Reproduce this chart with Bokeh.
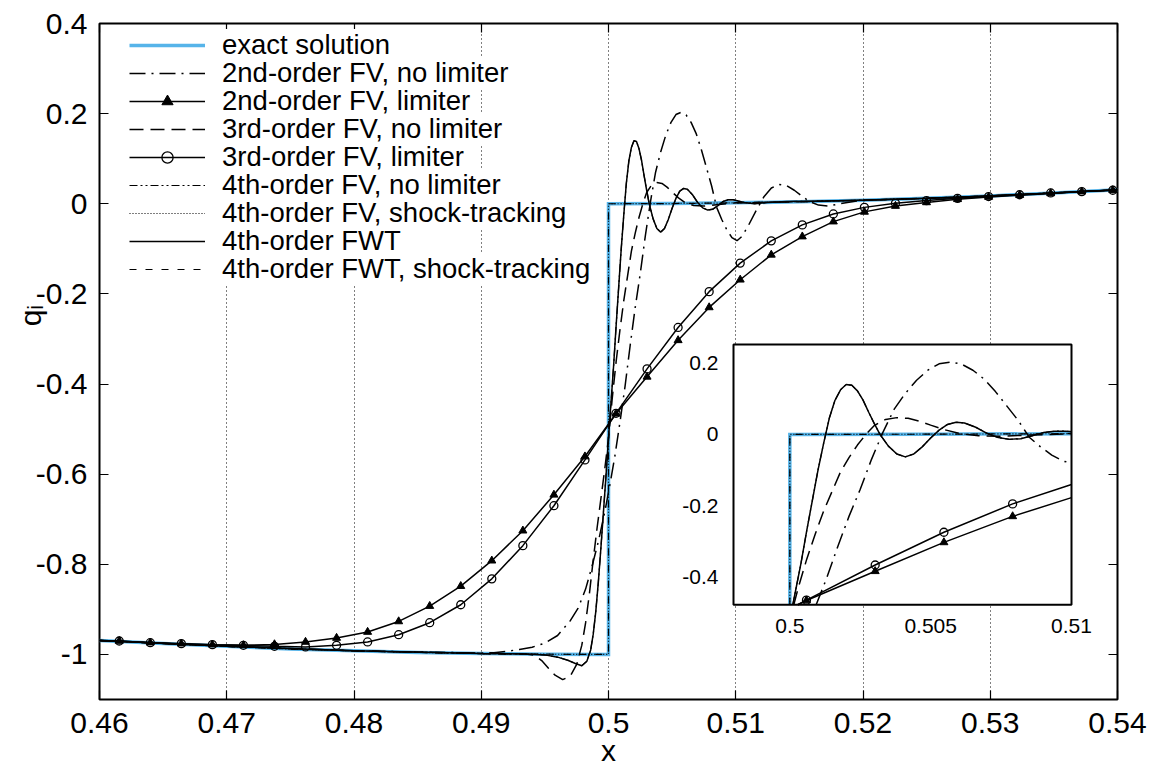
import numpy as np
from bokeh.plotting import figure
from bokeh.models import Range1d, FixedTicker, LinearAxis, Legend, LegendItem
from bokeh.embed import file_html
from bokeh.resources import INLINE
from bokeh.core.properties import value

FONT = "Liberation Sans"

# ---------------- data ----------------
x_range = (0.46, 0.54)
y_range = (-1.1, 0.4)
x_ticks = [0.46, 0.47, 0.48, 0.49, 0.50, 0.51, 0.52, 0.53, 0.54]
x_tick_labels = ["0.46", "0.47", "0.48", "0.49", "0.5", "0.51", "0.52", "0.53", "0.54"]
y_ticks = [-1.0, -0.8, -0.6, -0.4, -0.2, 0.0, 0.2, 0.4]
y_tick_labels = ["-1", "-0.8", "-0.6", "-0.4", "-0.2", "0", "0.2", "0.4"]
x_title = "x"
y_title = "q\u1d62"

inset_x_range = (0.498, 0.51)
inset_y_range = (-0.478, 0.252)
inset_x_ticks = [0.5, 0.505, 0.51]
inset_x_labels = ["0.5", "0.505", "0.51"]
inset_y_ticks = [-0.4, -0.2, 0.0, 0.2]
inset_y_labels = ["-0.4", "-0.2", "0", "0.2"]

series_labels = [
    "exact solution",
    "2nd-order FV, no limiter",
    "2nd-order FV, limiter",
    "3rd-order FV, no limiter",
    "3rd-order FV, limiter",
    "4th-order FV, no limiter",
    "4th-order FV, shock-tracking",
    "4th-order FWT",
    "4th-order FWT, shock-tracking",
]

# exact solution (also matched by both shock-tracking results)
exact_x = [0.46, 0.465, 0.47, 0.475, 0.48, 0.485, 0.49, 0.495, 0.5,
           0.5, 0.505, 0.51, 0.515, 0.52, 0.525, 0.53, 0.535, 0.54]
exact_y = [-0.969, -0.976, -0.982, -0.988, -0.992, -0.9955, -0.998, -0.9995, -1.0,
           0.0, 0.0005, 0.002, 0.0045, 0.008, 0.012, 0.0175, 0.024, 0.031]

# limiter schemes (markers on every sample)
lim_x = [0.46, 0.46155, 0.46399, 0.46643, 0.46887, 0.47131, 0.47375, 0.47619, 0.47863,
         0.48107, 0.48351, 0.48595, 0.48839, 0.49083, 0.49327, 0.49571, 0.49815, 0.50059,
         0.50303, 0.50547, 0.50791, 0.51035, 0.51279, 0.51523, 0.51767, 0.52011, 0.52255,
         0.52499, 0.52743, 0.52987, 0.53231, 0.53475, 0.53719, 0.53963, 0.54]
lim2_y = [-0.969, -0.9702, -0.9739, -0.9761, -0.9783, -0.9798, -0.9777, -0.9723, -0.9635,
          -0.9502, -0.9268, -0.8927, -0.8485, -0.792, -0.7254, -0.6458, -0.5609, -0.466,
          -0.384, -0.303, -0.230, -0.1686, -0.1133, -0.0728, -0.0396, -0.018, -0.005,
          0.003, 0.010, 0.015, 0.019, 0.023, 0.027, 0.030, 0.031]
lim3_y = [-0.969, -0.9702, -0.9739, -0.9761, -0.9783, -0.9798, -0.982, -0.9834, -0.9798,
          -0.9723, -0.9562, -0.9296, -0.8898, -0.8323, -0.7586, -0.670, -0.5684, -0.465,
          -0.3664, -0.2745, -0.195, -0.1317, -0.0823, -0.0469, -0.0226, -0.008, 0.001,
          0.007, 0.012, 0.016, 0.020, 0.024, 0.027, 0.030, 0.031]

# 2nd-order FV, no limiter
nl2_x = [0.46, 0.47, 0.48, 0.49, 0.491, 0.492, 0.493, 0.494, 0.495, 0.496, 0.497, 0.4976,
         0.4982, 0.4987, 0.4992, 0.4997, 0.5001, 0.5005, 0.5009, 0.5013, 0.5017, 0.5021,
         0.5025, 0.5029, 0.5033, 0.5037, 0.5041, 0.5045, 0.5049, 0.5053, 0.5057, 0.5061,
         0.5065, 0.5069, 0.5073, 0.5077, 0.5081, 0.5085, 0.5089, 0.5093, 0.5097, 0.5101,
         0.5105, 0.511, 0.5116, 0.5122, 0.5128, 0.5134, 0.514, 0.5146, 0.5152, 0.5158,
         0.5165, 0.5173, 0.5182, 0.5195, 0.521, 0.525, 0.53, 0.535, 0.54]
nl2_y = [-0.969, -0.982, -0.992, -0.997, -0.996, -0.993, -0.989, -0.984, -0.975, -0.958,
         -0.925, -0.898, -0.855, -0.805, -0.75, -0.685, -0.625, -0.56, -0.485, -0.405,
         -0.315, -0.23, -0.154, -0.07, 0.005, 0.07, 0.115, 0.152, 0.18, 0.198, 0.203,
         0.197, 0.18, 0.155, 0.12, 0.08, 0.04, -0.008, -0.035, -0.058, -0.075, -0.082,
         -0.072, -0.048, -0.015, 0.015, 0.035, 0.043, 0.04, 0.03, 0.017, 0.005,
         -0.003, -0.005, 0.0, 0.006, 0.009, 0.012, 0.0175, 0.024, 0.031]

# 3rd-order FV, no limiter
nl3_x = [0.46, 0.47, 0.48, 0.49, 0.4935, 0.4942, 0.4948, 0.4953, 0.4958, 0.4964, 0.497,
         0.4975, 0.4979, 0.4982, 0.4985, 0.4988, 0.4991, 0.4994, 0.4997, 0.5, 0.5003,
         0.5006, 0.5009, 0.5012, 0.5015, 0.5018, 0.5021, 0.5024, 0.5027, 0.503, 0.5034,
         0.5038, 0.5042, 0.5046, 0.505, 0.5055, 0.506, 0.5067, 0.5075, 0.5085, 0.51,
         0.515, 0.52, 0.525, 0.53, 0.535, 0.54]
nl3_y = [-0.969, -0.982, -0.992, -0.998, -0.999, -1.002, -1.015, -1.031, -1.046, -1.056,
         -1.048, -1.022, -0.98, -0.93, -0.865, -0.79, -0.72, -0.655, -0.59, -0.52, -0.43,
         -0.35, -0.28, -0.215, -0.16, -0.105, -0.065, -0.03, 0.0, 0.025, 0.042,
         0.047, 0.045, 0.037, 0.026, 0.013, 0.003, -0.004, -0.005, -0.002, 0.002,
         0.0045, 0.008, 0.012, 0.0175, 0.024, 0.031]

# 4th-order FWT (4th-order FV without limiter lies on top of it)
fwt_x = [0.46, 0.47, 0.48, 0.49, 0.4935, 0.495, 0.496, 0.4968, 0.4974, 0.4979, 0.4983,
         0.4986, 0.4988, 0.499, 0.4992, 0.4994, 0.4996, 0.4998, 0.5, 0.5002, 0.5004,
         0.5006, 0.5008, 0.501, 0.5012, 0.5014, 0.5016, 0.5018, 0.502, 0.5022, 0.5024,
         0.5026, 0.5028, 0.503, 0.5032, 0.5035, 0.5038, 0.5041, 0.5044, 0.5047, 0.505,
         0.5053, 0.5056, 0.5059, 0.5062, 0.5066, 0.507, 0.5074, 0.5078, 0.5082, 0.5086,
         0.509, 0.5094, 0.5098, 0.5102, 0.5108, 0.5115, 0.5125, 0.514, 0.517, 0.52,
         0.525, 0.53, 0.535, 0.54]
fwt_y = [-0.969, -0.982, -0.992, -0.998, -0.999, -1.001, -1.006, -1.013, -1.020, -1.025,
         -1.015, -0.99, -0.955, -0.905, -0.84, -0.765, -0.685, -0.605, -0.52, -0.44,
         -0.36, -0.27, -0.185, -0.10, -0.025, 0.045, 0.095, 0.125, 0.14, 0.138, 0.122,
         0.096, 0.062, 0.03, 0.0, -0.033, -0.055, -0.063, -0.055, -0.035, -0.01,
         0.012, 0.028, 0.034, 0.032, 0.02, 0.003, -0.009, -0.014, -0.012, -0.004,
         0.005, 0.009, 0.009, 0.006, 0.002, 0.0, 0.003, 0.005, 0.006, 0.008,
         0.012, 0.0175, 0.024, 0.031]
fv4_x = fwt_x
fv4_y = fwt_y

assert len(nl2_x) == len(nl2_y) and len(nl3_x) == len(nl3_y) and len(fwt_x) == len(fwt_y)
assert len(lim_x) == len(lim2_y) == len(lim3_y)

# ---------------- layout (pixels) ----------------
W, H = 1159, 769
B_LEFT, B_RIGHT, B_TOP, B_BOTTOM = 99, 42, 23, 68
FW, FH = W - B_LEFT - B_RIGHT, H - B_TOP - B_BOTTOM
# inset frame, pixels relative to main frame (left, right, top, bottom)
INS_L, INS_R, INS_T, INS_B = 634, 972, 322, 583

BLUE = "#56b4e9"
LW = 1.5
MS = 8
styles = {
    "nl2": dict(line_dash="16 6 2 6"),
    "nl3": dict(line_dash="14 7"),
    "fv4": dict(line_dash="8 3 2 3 2 3"),
    "fv4st": dict(line_dash="1 2"),
    "fwtst": dict(line_dash="7 9"),
}

p = figure(width=W, height=H, x_range=Range1d(*x_range), y_range=Range1d(*y_range),
           output_backend="svg", toolbar_location=None,
           min_border_left=B_LEFT, min_border_right=B_RIGHT,
           min_border_top=B_TOP, min_border_bottom=B_BOTTOM)
p.background_fill_color = "white"
p.border_fill_color = "white"
p.outline_line_color = "black"
p.outline_line_width = 2


def style_axis(ax, ticks, labels=None):
    ax.ticker = FixedTicker(ticks=ticks)
    ax.major_tick_in = 9
    ax.major_tick_out = 0
    ax.major_tick_line_width = 1.2
    ax.major_tick_line_color = "black"
    ax.minor_tick_line_color = None
    ax.axis_line_color = None
    ax.major_label_text_font = FONT
    ax.major_label_text_color = "black"
    ax.axis_label_text_font = FONT
    ax.axis_label_text_font_style = "normal"
    ax.axis_label_text_color = "black"
    ax.axis_label_text_font_size = "30px"
    if labels is not None:
        ax.major_label_overrides = dict(zip(ticks, labels))
        ax.major_label_text_font_size = "30px"
    else:
        ax.major_label_text_font_size = "0px"
        ax.major_label_text_alpha = 0
        ax.major_label_standoff = 0


style_axis(p.xaxis[0], x_ticks, x_tick_labels)
p.xaxis[0].major_label_standoff = 13
p.xaxis[0].axis_label = x_title
p.xaxis[0].axis_label_standoff = -2
style_axis(p.yaxis[0], y_ticks, y_tick_labels)
p.yaxis[0].major_label_standoff = 12
# leading no-break spaces lift the rotated title a little above the axis centre
p.yaxis[0].axis_label = "\u00a0" * 11 + y_title
p.yaxis[0].axis_label_standoff = -14
top_axis = LinearAxis()
style_axis(top_axis, x_ticks)
p.add_layout(top_axis, "above")
right_axis = LinearAxis()
style_axis(right_axis, y_ticks)
p.add_layout(right_axis, "right")

p.xgrid.ticker = FixedTicker(ticks=x_ticks[1:-1])
p.xgrid.grid_line_color = "black"
p.xgrid.grid_line_dash = "1 3"
p.xgrid.grid_line_width = 1
p.ygrid.visible = False

# ---------------- main curves ----------------
r_exact = p.line(exact_x, exact_y, line_color=BLUE, line_width=3.5, line_join="miter")
r_nl2 = p.line(nl2_x, nl2_y, line_color="black", line_width=LW, **styles["nl2"])
r_lim2 = p.line(lim_x, lim2_y, line_color="black", line_width=LW)
r_lim2m = p.scatter(lim_x[1:-1], lim2_y[1:-1], marker="triangle", size=MS,
                    fill_color="black", line_color="black")
r_nl3 = p.line(nl3_x, nl3_y, line_color="black", line_width=LW, **styles["nl3"])
r_lim3 = p.line(lim_x, lim3_y, line_color="black", line_width=LW)
r_lim3m = p.scatter(lim_x[1:-1], lim3_y[1:-1], marker="circle", size=MS,
                    fill_alpha=0, line_color="black", line_width=1.3)
r_fv4 = p.line(fv4_x, fv4_y, line_color="black", line_width=1.2, **styles["fv4"])
r_fv4st = p.line(exact_x, exact_y, line_color="black", line_width=1.2, **styles["fv4st"])
r_fwt = p.line(fwt_x, fwt_y, line_color="black", line_width=LW)
r_fwtst = p.line(exact_x, exact_y, line_color="black", line_width=1.2, **styles["fwtst"])

# ---------------- inset ----------------
tx0 = x_range[0] + INS_L / FW * (x_range[1] - x_range[0])
tx1 = x_range[0] + INS_R / FW * (x_range[1] - x_range[0])
ty1 = y_range[1] - INS_T / FH * (y_range[1] - y_range[0])
ty0 = y_range[1] - INS_B / FH * (y_range[1] - y_range[0])
inset = p.subplot(x_source=Range1d(*inset_x_range), y_source=Range1d(*inset_y_range),
                  x_target=Range1d(tx0, tx1), y_target=Range1d(ty0, ty1))


def clip(xs, ys, xr=inset_x_range, yr=inset_y_range):
    """Clip a polyline to the inset window (NaN separates pieces)."""
    x0, x1 = xr
    y0, y1 = yr
    ox, oy = [], []
    last = None
    for i in range(len(xs) - 1):
        ax_, ay_, bx_, by_ = xs[i], ys[i], xs[i + 1], ys[i + 1]
        dx, dy = bx_ - ax_, by_ - ay_
        t0, t1 = 0.0, 1.0
        ok = True
        for pp, qq in ((-dx, ax_ - x0), (dx, x1 - ax_), (-dy, ay_ - y0), (dy, y1 - ay_)):
            if pp == 0:
                if qq < 0:
                    ok = False
                    break
            else:
                t = qq / pp
                if pp < 0:
                    if t > t1:
                        ok = False
                        break
                    t0 = max(t0, t)
                else:
                    if t < t0:
                        ok = False
                        break
                    t1 = min(t1, t)
        if not ok:
            continue
        sx, sy = ax_ + t0 * dx, ay_ + t0 * dy
        ex, ey = ax_ + t1 * dx, ay_ + t1 * dy
        if last is None or abs(last[0] - sx) > 1e-12 or abs(last[1] - sy) > 1e-12:
            if ox:
                ox.append(np.nan)
                oy.append(np.nan)
            ox.append(sx)
            oy.append(sy)
        ox.append(ex)
        oy.append(ey)
        last = (ex, ey)
    return ox, oy


def inside(xs, ys, xr=inset_x_range, yr=inset_y_range):
    pts = [(a, b) for a, b in zip(xs, ys) if xr[0] <= a <= xr[1] and yr[0] <= b <= yr[1]]
    return [a for a, _ in pts], [b for _, b in pts]


inset.quad(left=[inset_x_range[0]], right=[inset_x_range[1]],
           bottom=[inset_y_range[0]], top=[inset_y_range[1]],
           fill_color="white", line_color=None)
inset.line(*clip(exact_x, exact_y), line_color=BLUE, line_width=3.5, line_join="miter")
inset.line(*clip(nl2_x, nl2_y), line_color="black", line_width=LW, **styles["nl2"])
inset.line(*clip(lim_x, lim2_y), line_color="black", line_width=LW)
inset.scatter(*inside(lim_x, lim2_y), marker="triangle", size=MS, fill_color="black",
              line_color="black")
inset.line(*clip(nl3_x, nl3_y), line_color="black", line_width=LW, **styles["nl3"])
inset.line(*clip(lim_x, lim3_y), line_color="black", line_width=LW)
inset.scatter(*inside(lim_x, lim3_y), marker="circle", size=MS, fill_alpha=0,
              line_color="black", line_width=1.3)
inset.line(*clip(fv4_x, fv4_y), line_color="black", line_width=1.2, **styles["fv4"])
inset.line(*clip(exact_x, exact_y), line_color="black", line_width=1.2, **styles["fv4st"])
inset.line(*clip(fwt_x, fwt_y), line_color="black", line_width=LW)
inset.line(*clip(exact_x, exact_y), line_color="black", line_width=1.2, **styles["fwtst"])
inset.quad(left=[inset_x_range[0]], right=[inset_x_range[1]],
           bottom=[inset_y_range[0]], top=[inset_y_range[1]],
           fill_color=None, line_color="black", line_width=2)
inset.text(x=inset_x_ticks, y=[inset_y_range[0]] * len(inset_x_ticks), text=inset_x_labels,
           text_font=value(FONT), text_font_size="21px", text_align="center",
           text_baseline="middle", y_offset=21, text_color="black")
inset.text(x=[inset_x_range[0]] * len(inset_y_ticks), y=inset_y_ticks, text=inset_y_labels,
           text_font=value(FONT), text_font_size="21px", text_align="right",
           text_baseline="middle", x_offset=-15, text_color="black")

# ---------------- legend (one row per Legend so rows can sit 28 px apart) ----------------
renderer_groups = [[r_exact], [r_nl2], [r_lim2, r_lim2m], [r_nl3], [r_lim3, r_lim3m],
                   [r_fv4], [r_fv4st], [r_fwt], [r_fwtst]]
ROW_H, ROW_PITCH, FIRST_ROW_TOP = 31, 28, 9
legends = []
for i, (lab, rs) in enumerate(zip(series_labels, renderer_groups)):
    top = FIRST_ROW_TOP + i * ROW_PITCH
    lg = Legend(items=[LegendItem(label=lab, renderers=rs)],
                location=(30, FH - top - ROW_H))
    lg.label_text_font = FONT
    lg.label_text_font_size = "27.5px"
    lg.label_text_color = "black"
    lg.label_text_baseline = "middle"
    lg.glyph_width = 76
    lg.glyph_height = 28
    lg.label_height = 28
    lg.label_standoff = 17
    lg.spacing = 0
    lg.padding = 0
    lg.margin = 0
    lg.border_line_color = None
    lg.background_fill_color = "white"
    lg.background_fill_alpha = 1.0
    legends.append(lg)
# draw the lowest row first so each row's opaque box only covers empty space of the next
for lg in reversed(legends):
    p.add_layout(lg, "center")

open("out.html", "w").write(file_html(p, INLINE))
